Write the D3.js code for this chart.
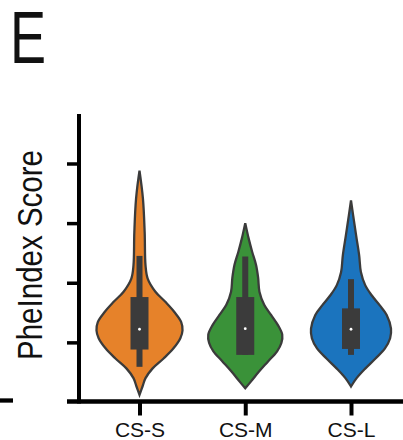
<!DOCTYPE html>
<html>
<head>
<meta charset="utf-8">
<script src="https://cdn.jsdelivr.net/npm/d3@7"></script>
<style>
  body { margin: 0; background: #fff; }
  text { font-family: "Liberation Sans", Arial, Helvetica, sans-serif; fill: #111; }
</style>
</head>
<body>
<svg></svg>
<script>
// groups on the x axis
const groups = ["CS-S", "CS-M", "CS-L"];
const yTicks = [1, 2, 3, 4];

// violin outlines: [score, relative density]
const densS = [[3.88,0],[3.41,0.08],[2.85,0.12],[2.29,0.14],[2.07,0.19],[1.85,0.37],[1.68,0.6],[1.51,0.81],
  [1.34,0.97],[1.20,1.0],[1.07,0.95],[0.90,0.79],[0.73,0.56],[0.56,0.3],[0.40,0.14],[0.26,0.07],[0.12,0]];
const densM = [[3.00,0],[2.74,0.08],[2.52,0.16],[2.30,0.25],[2.08,0.3],[1.85,0.33],[1.63,0.44],[1.46,0.6],
  [1.29,0.76],[1.13,0.86],[0.99,0.84],[0.85,0.74],[0.68,0.53],[0.51,0.32],[0.35,0.14],[0.23,0]];
const densL = [[3.38,0],[3.13,0.05],[2.79,0.12],[2.46,0.19],[2.18,0.23],[1.96,0.33],[1.79,0.48],[1.62,0.67],
  [1.46,0.83],[1.23,0.93],[1.07,0.91],[0.90,0.79],[0.73,0.57],[0.56,0.33],[0.40,0.13],[0.26,0]];

// box stats: lower whisker, q1, median, q3, upper whisker
const whiskLo = [0.59, 0.79, 0.79];
const q1 = [0.88, 0.79, 0.89];
const medians = [1.22, 1.23, 1.22];
const q3 = [1.76, 1.76, 1.57];
const whiskHi = [2.45, 2.44, 2.06];

const densities = [densS, densM, densL];

document.addEventListener("DOMContentLoaded", () => {
  const width = 403, height = 440;
  const svg = d3.select("svg").attr("width", width).attr("height", height);

  const color = d3.scaleOrdinal().domain(groups).range(["#e6822a", "#3a9239", "#1b74be"]);
  const x = d3.scalePoint().domain(groups).range([139.5, 351]);
  const y = d3.scaleLinear().domain([0, 4.83]).range([402, 114]);
  const w = d3.scaleLinear().domain([0, 1]).range([0, 43]);
  const dark = "#3b3b3b";

  // violins
  groups.forEach((g, i) => {
    const cx = x(g);
    const area = d3.area()
      .y(d => y(d[0]))
      .x0(d => cx - w(d[1]))
      .x1(d => cx + w(d[1]))
      .curve(d3.curveCatmullRom);
    svg.append("path")
      .attr("d", area(densities[i]))
      .attr("fill", color(g))
      .attr("stroke", dark)
      .attr("stroke-width", 2.3);

    // whisker
    svg.append("rect")
      .attr("x", cx - 3).attr("width", 6)
      .attr("y", y(whiskHi[i])).attr("height", y(whiskLo[i]) - y(whiskHi[i]))
      .attr("fill", dark);
    // box
    svg.append("rect")
      .attr("x", cx - 9).attr("width", 18)
      .attr("y", y(q3[i])).attr("height", y(q1[i]) - y(q3[i]))
      .attr("fill", dark);
    svg.append("circle")
      .attr("cx", cx).attr("cy", y(medians[i])).attr("r", 1.4)
      .attr("fill", "#fff");
  });

  // y axis
  const yAxis = svg.append("g")
    .attr("transform", "translate(79,0)")
    .call(d3.axisLeft(y).tickValues(yTicks).tickSize(12).tickFormat(""));
  yAxis.select(".domain").remove();
  yAxis.selectAll("line").attr("stroke", "#000").attr("stroke-width", 3.5);
  svg.append("line").attr("x1", 79).attr("x2", 79).attr("y1", 114).attr("y2", 403.5)
    .attr("stroke", "#000").attr("stroke-width", 4);

  // x axis
  const xAxis = svg.append("g")
    .attr("transform", "translate(0,401.5)")
    .call(d3.axisBottom(x).tickSize(14).tickPadding(6));
  xAxis.select(".domain").remove();
  xAxis.selectAll("line").attr("stroke", "#000").attr("stroke-width", 4);
  xAxis.selectAll("text").attr("font-size", 21).attr("fill", "#111")
    .attr("dy", null).attr("y", 35.5);
  svg.append("line").attr("x1", 67).attr("x2", width).attr("y1", 401.5).attr("y2", 401.5)
    .attr("stroke", "#000").attr("stroke-width", 4.3);

  // cut-off axis from neighbouring panel
  svg.append("line").attr("x1", 0).attr("x2", 13).attr("y1", 400.5).attr("y2", 400.5)
    .attr("stroke", "#000").attr("stroke-width", 4.3);

  // y label
  svg.append("text")
    .attr("transform", "translate(42,255) rotate(-90) scale(0.82,1)")
    .attr("text-anchor", "middle")
    .attr("font-size", 36)
    .text("PheIndex Score");

  // panel letter
  svg.append("text")
    .attr("transform", "translate(10,63) scale(0.73,1)")
    .attr("font-size", 74)
    .text("E");
});
</script>
</body>
</html>
